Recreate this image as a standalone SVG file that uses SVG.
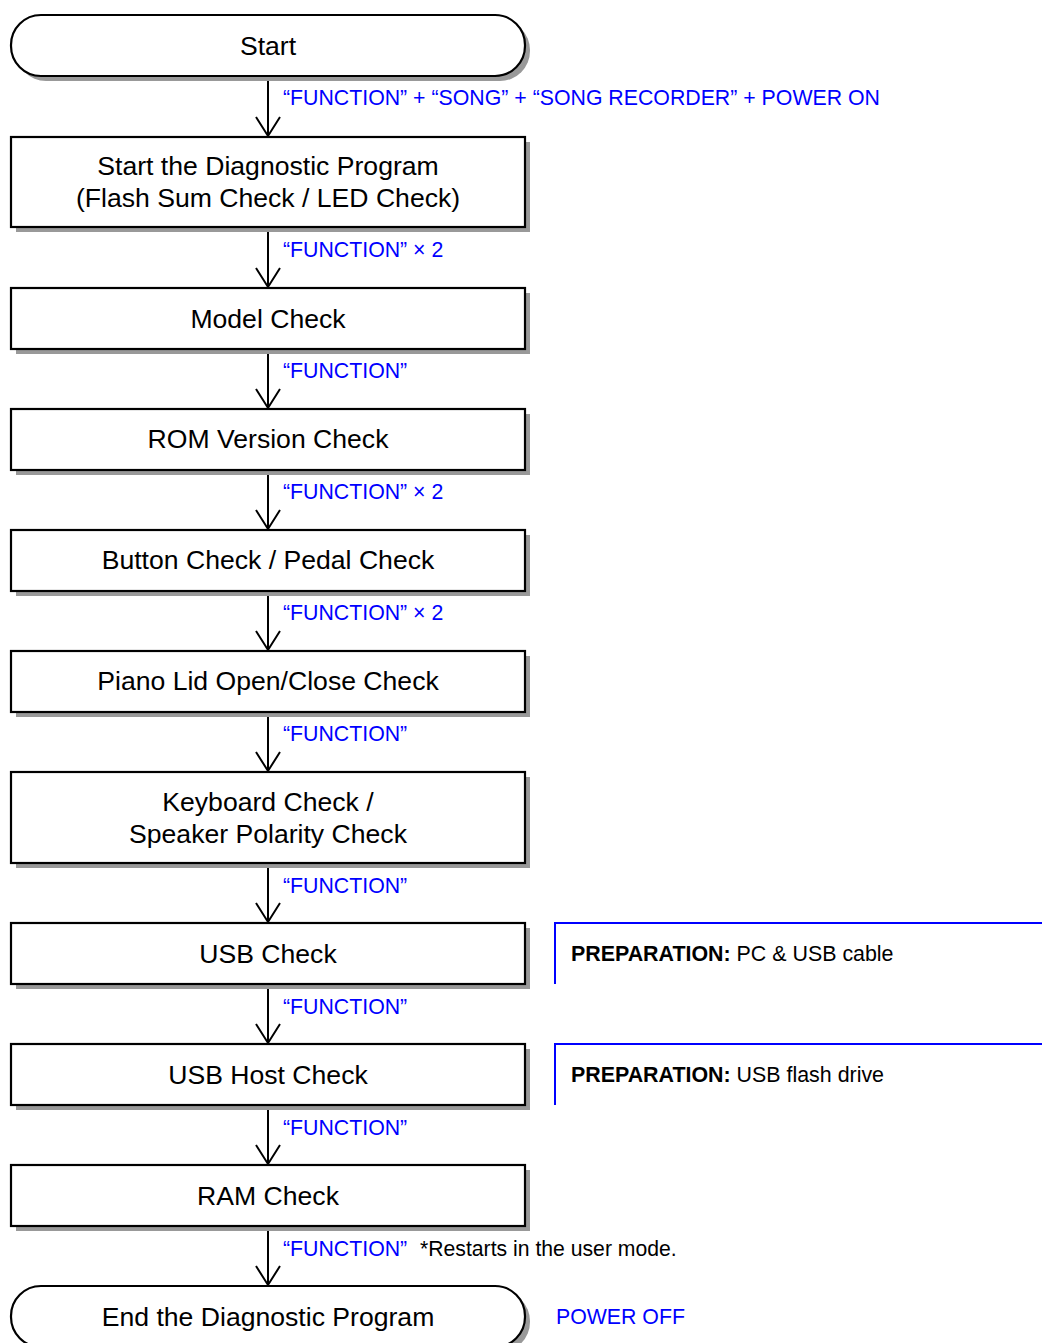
<svg xmlns="http://www.w3.org/2000/svg" width="1042" height="1343" viewBox="0 0 1042 1343">
<style>
.box{fill:#fff;stroke:#000;stroke-width:2.2}
.sh{fill:#999}
.t{font-family:"Liberation Sans",Arial,sans-serif;font-size:26.6px;fill:#000;text-anchor:middle}
.lb{font-family:"Liberation Sans",Arial,sans-serif;font-size:21.3px;fill:#0000ff}
.nt{font-family:"Liberation Sans",Arial,sans-serif;font-size:21.2px;fill:#000}
.pr{font-family:"Liberation Sans",Arial,sans-serif;font-size:21.4px;fill:#000}
.c{stroke:#000;stroke-width:2;fill:none}
.bl{stroke:#0000ff;stroke-width:2;fill:none}
</style>
<defs>
<marker id="ah" markerWidth="22" markerHeight="28" refX="20" refY="13" orient="auto" markerUnits="userSpaceOnUse" viewBox="0 0 22 28">
<path d="M1,1 L20,13 L1,25" fill="none" stroke="#000" stroke-width="2"/>
</marker>
</defs>
<rect width="1042" height="1343" fill="#fff"/>
<g id="connectors">
<line class="c" x1="268" y1="77" x2="268" y2="136" marker-end="url(#ah)"/>
<line class="c" x1="268" y1="228" x2="268" y2="287" marker-end="url(#ah)"/>
<line class="c" x1="268" y1="350" x2="268" y2="408" marker-end="url(#ah)"/>
<line class="c" x1="268" y1="471" x2="268" y2="529" marker-end="url(#ah)"/>
<line class="c" x1="268" y1="592" x2="268" y2="650" marker-end="url(#ah)"/>
<line class="c" x1="268" y1="713" x2="268" y2="771" marker-end="url(#ah)"/>
<line class="c" x1="268" y1="864" x2="268" y2="922" marker-end="url(#ah)"/>
<line class="c" x1="268" y1="985" x2="268" y2="1043" marker-end="url(#ah)"/>
<line class="c" x1="268" y1="1106" x2="268" y2="1164" marker-end="url(#ah)"/>
<line class="c" x1="268" y1="1227" x2="268" y2="1285" marker-end="url(#ah)"/>
<text class="lb" x="283" y="105">“FUNCTION” + “SONG” + “SONG RECORDER” + POWER ON</text>
<text class="lb" x="283" y="257">“FUNCTION” × 2</text>
<text class="lb" x="283" y="378">“FUNCTION”</text>
<text class="lb" x="283" y="499">“FUNCTION” × 2</text>
<text class="lb" x="283" y="620">“FUNCTION” × 2</text>
<text class="lb" x="283" y="741">“FUNCTION”</text>
<text class="lb" x="283" y="893">“FUNCTION”</text>
<text class="lb" x="283" y="1014">“FUNCTION”</text>
<text class="lb" x="283" y="1135">“FUNCTION”</text>
<text class="lb" x="283" y="1256">“FUNCTION”</text>
<text class="nt" x="420" y="1256">*Restarts in the user mode.</text>
</g>
<g id="start">
<rect class="sh" x="16" y="20" width="514" height="61" rx="30"/>
<rect class="box" x="11" y="15" width="514" height="61" rx="30"/>
<text class="t" x="268" y="55">Start</text>
</g>
<g id="diag">
<rect class="sh" x="16" y="142" width="514" height="90"/>
<rect class="box" x="11" y="137" width="514" height="90"/>
<text class="t" x="268" y="175">Start the Diagnostic Program</text>
<text class="t" x="268" y="207">(Flash Sum Check / LED Check)</text>
</g>
<g id="model">
<rect class="sh" x="16" y="293" width="514" height="61"/>
<rect class="box" x="11" y="288" width="514" height="61"/>
<text class="t" x="268" y="328">Model Check</text>
</g>
<g id="rom">
<rect class="sh" x="16" y="414" width="514" height="61"/>
<rect class="box" x="11" y="409" width="514" height="61"/>
<text class="t" x="268" y="448">ROM Version Check</text>
</g>
<g id="button">
<rect class="sh" x="16" y="535" width="514" height="61"/>
<rect class="box" x="11" y="530" width="514" height="61"/>
<text class="t" x="268" y="569">Button Check / Pedal Check</text>
</g>
<g id="lid">
<rect class="sh" x="16" y="656" width="514" height="61"/>
<rect class="box" x="11" y="651" width="514" height="61"/>
<text class="t" x="268" y="690">Piano Lid Open/Close Check</text>
</g>
<g id="keyboard">
<rect class="sh" x="16" y="777" width="514" height="91"/>
<rect class="box" x="11" y="772" width="514" height="91"/>
<text class="t" x="268" y="811">Keyboard Check /</text>
<text class="t" x="268" y="843">Speaker Polarity Check</text>
</g>
<g id="usb">
<rect class="sh" x="16" y="928" width="514" height="61"/>
<rect class="box" x="11" y="923" width="514" height="61"/>
<text class="t" x="268" y="963">USB Check</text>
</g>
<g id="usbhost">
<rect class="sh" x="16" y="1049" width="514" height="61"/>
<rect class="box" x="11" y="1044" width="514" height="61"/>
<text class="t" x="268" y="1084">USB Host Check</text>
</g>
<g id="ram">
<rect class="sh" x="16" y="1170" width="514" height="61"/>
<rect class="box" x="11" y="1165" width="514" height="61"/>
<text class="t" x="268" y="1205">RAM Check</text>
</g>
<g id="end">
<rect class="sh" x="16" y="1291" width="514" height="61" rx="30"/>
<rect class="box" x="11" y="1286" width="514" height="61" rx="30"/>
<text class="t" x="268" y="1326">End the Diagnostic Program</text>
<text class="lb" x="556" y="1324">POWER OFF</text>
</g>
<g id="prep1">
<path class="bl" d="M555,984 V923 H1042"/>
<text class="pr" x="571" y="961"><tspan font-weight="bold">PREPARATION:</tspan> PC &amp; USB cable</text>
</g>
<g id="prep2">
<path class="bl" d="M555,1105 V1044 H1042"/>
<text class="pr" x="571" y="1082"><tspan font-weight="bold">PREPARATION:</tspan> USB flash drive</text>
</g>
</svg>
